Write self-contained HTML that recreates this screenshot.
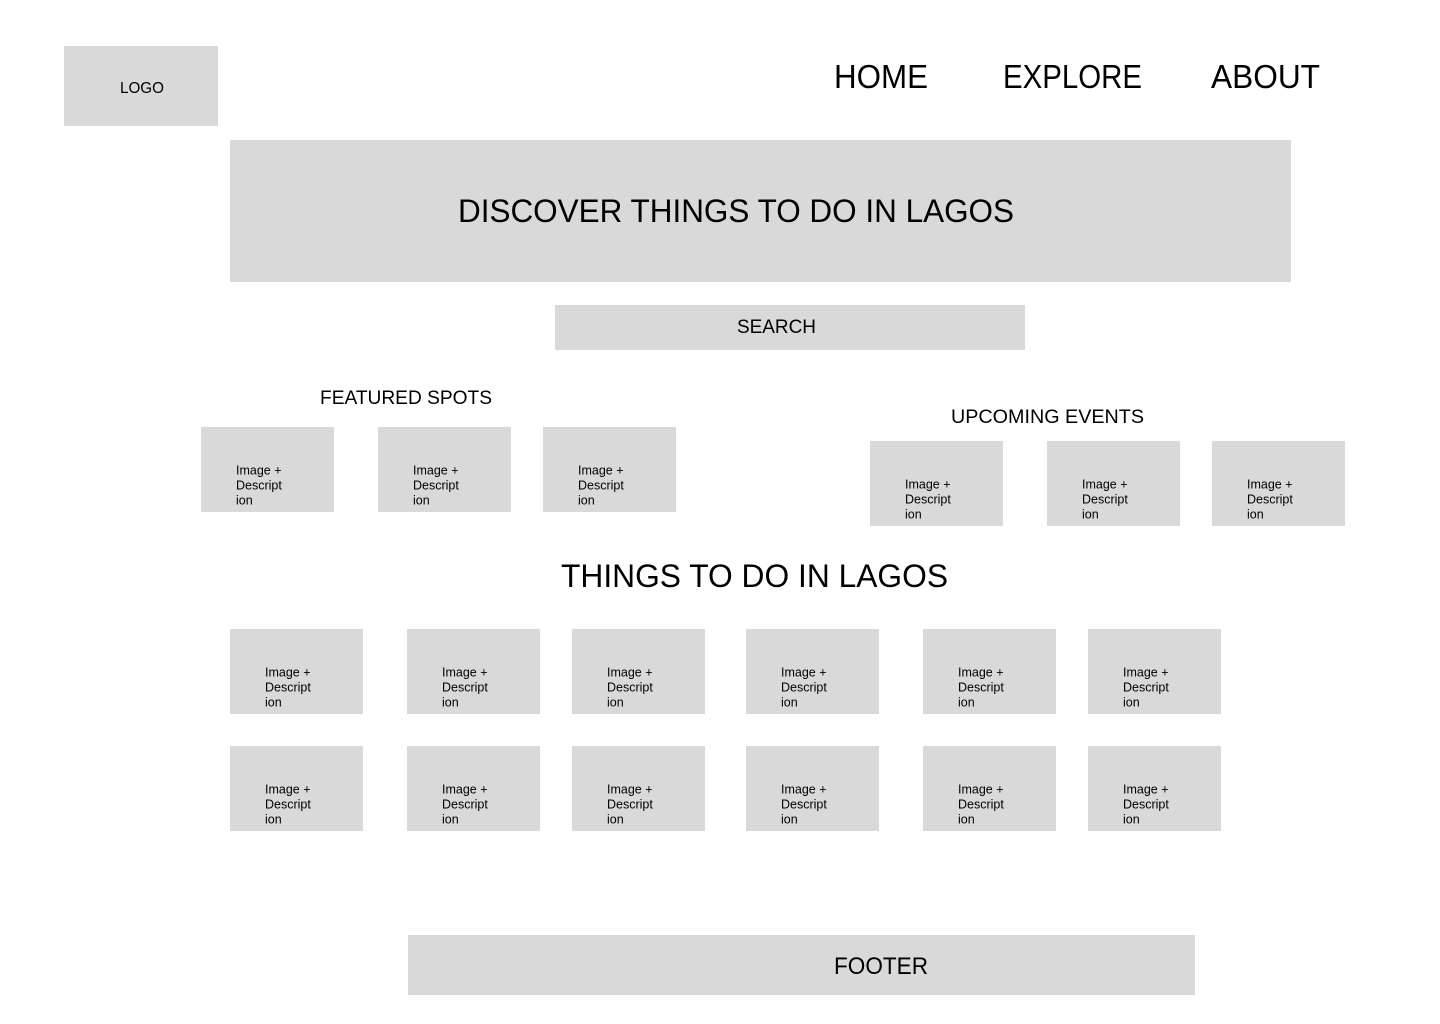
<!DOCTYPE html>
<html><head><meta charset="utf-8"><style>html,body{margin:0;padding:0;background:#fff}svg{display:block}</style></head>
<body>
<svg width="1440" height="1024" viewBox="0 0 1440 1024" xmlns="http://www.w3.org/2000/svg" font-family="Liberation Sans, Arial, sans-serif" fill="#000">
<rect width="1440" height="1024" fill="#fff"/>
<rect x="64" y="46" width="154" height="80" fill="#d9d9d9"/>
<text x="120" y="93" font-size="16" textLength="44" lengthAdjust="spacingAndGlyphs">LOGO</text>
<text x="834" y="88" font-size="33" textLength="94" lengthAdjust="spacingAndGlyphs">HOME</text>
<text x="1003" y="88" font-size="33" textLength="139" lengthAdjust="spacingAndGlyphs">EXPLORE</text>
<text x="1211" y="88" font-size="33" textLength="109" lengthAdjust="spacingAndGlyphs">ABOUT</text>
<rect x="230" y="140" width="1061" height="142" fill="#d9d9d9"/>
<text x="458" y="222" font-size="32" textLength="556" lengthAdjust="spacingAndGlyphs">DISCOVER THINGS TO DO IN LAGOS</text>
<rect x="555" y="305" width="470" height="45" fill="#d9d9d9"/>
<text x="737" y="333" font-size="19" textLength="79" lengthAdjust="spacingAndGlyphs">SEARCH</text>
<text x="320" y="404" font-size="19" textLength="172" lengthAdjust="spacingAndGlyphs">FEATURED SPOTS</text>
<text x="951" y="423" font-size="19" textLength="193" lengthAdjust="spacingAndGlyphs">UPCOMING EVENTS</text>
<text x="561" y="587" font-size="32" textLength="387" lengthAdjust="spacingAndGlyphs">THINGS TO DO IN LAGOS</text>
<rect x="408" y="935" width="787" height="60" fill="#d9d9d9"/>
<text x="834" y="974" font-size="24" textLength="94" lengthAdjust="spacingAndGlyphs">FOOTER</text>
<g font-size="12.5">
<g transform="translate(201,427)"><rect width="133" height="85" fill="#d9d9d9"/><text x="35" y="47.5">Image +</text><text x="35" y="62.5">Descript</text><text x="35" y="77.5">ion</text></g>
<g transform="translate(378,427)"><rect width="133" height="85" fill="#d9d9d9"/><text x="35" y="47.5">Image +</text><text x="35" y="62.5">Descript</text><text x="35" y="77.5">ion</text></g>
<g transform="translate(543,427)"><rect width="133" height="85" fill="#d9d9d9"/><text x="35" y="47.5">Image +</text><text x="35" y="62.5">Descript</text><text x="35" y="77.5">ion</text></g>
<g transform="translate(870,441)"><rect width="133" height="85" fill="#d9d9d9"/><text x="35" y="47.5">Image +</text><text x="35" y="62.5">Descript</text><text x="35" y="77.5">ion</text></g>
<g transform="translate(1047,441)"><rect width="133" height="85" fill="#d9d9d9"/><text x="35" y="47.5">Image +</text><text x="35" y="62.5">Descript</text><text x="35" y="77.5">ion</text></g>
<g transform="translate(1212,441)"><rect width="133" height="85" fill="#d9d9d9"/><text x="35" y="47.5">Image +</text><text x="35" y="62.5">Descript</text><text x="35" y="77.5">ion</text></g>
<g transform="translate(230,629)"><rect width="133" height="85" fill="#d9d9d9"/><text x="35" y="47.5">Image +</text><text x="35" y="62.5">Descript</text><text x="35" y="77.5">ion</text></g>
<g transform="translate(407,629)"><rect width="133" height="85" fill="#d9d9d9"/><text x="35" y="47.5">Image +</text><text x="35" y="62.5">Descript</text><text x="35" y="77.5">ion</text></g>
<g transform="translate(572,629)"><rect width="133" height="85" fill="#d9d9d9"/><text x="35" y="47.5">Image +</text><text x="35" y="62.5">Descript</text><text x="35" y="77.5">ion</text></g>
<g transform="translate(746,629)"><rect width="133" height="85" fill="#d9d9d9"/><text x="35" y="47.5">Image +</text><text x="35" y="62.5">Descript</text><text x="35" y="77.5">ion</text></g>
<g transform="translate(923,629)"><rect width="133" height="85" fill="#d9d9d9"/><text x="35" y="47.5">Image +</text><text x="35" y="62.5">Descript</text><text x="35" y="77.5">ion</text></g>
<g transform="translate(1088,629)"><rect width="133" height="85" fill="#d9d9d9"/><text x="35" y="47.5">Image +</text><text x="35" y="62.5">Descript</text><text x="35" y="77.5">ion</text></g>
<g transform="translate(230,746)"><rect width="133" height="85" fill="#d9d9d9"/><text x="35" y="47.5">Image +</text><text x="35" y="62.5">Descript</text><text x="35" y="77.5">ion</text></g>
<g transform="translate(407,746)"><rect width="133" height="85" fill="#d9d9d9"/><text x="35" y="47.5">Image +</text><text x="35" y="62.5">Descript</text><text x="35" y="77.5">ion</text></g>
<g transform="translate(572,746)"><rect width="133" height="85" fill="#d9d9d9"/><text x="35" y="47.5">Image +</text><text x="35" y="62.5">Descript</text><text x="35" y="77.5">ion</text></g>
<g transform="translate(746,746)"><rect width="133" height="85" fill="#d9d9d9"/><text x="35" y="47.5">Image +</text><text x="35" y="62.5">Descript</text><text x="35" y="77.5">ion</text></g>
<g transform="translate(923,746)"><rect width="133" height="85" fill="#d9d9d9"/><text x="35" y="47.5">Image +</text><text x="35" y="62.5">Descript</text><text x="35" y="77.5">ion</text></g>
<g transform="translate(1088,746)"><rect width="133" height="85" fill="#d9d9d9"/><text x="35" y="47.5">Image +</text><text x="35" y="62.5">Descript</text><text x="35" y="77.5">ion</text></g>
</g>
</svg>
</body></html>
